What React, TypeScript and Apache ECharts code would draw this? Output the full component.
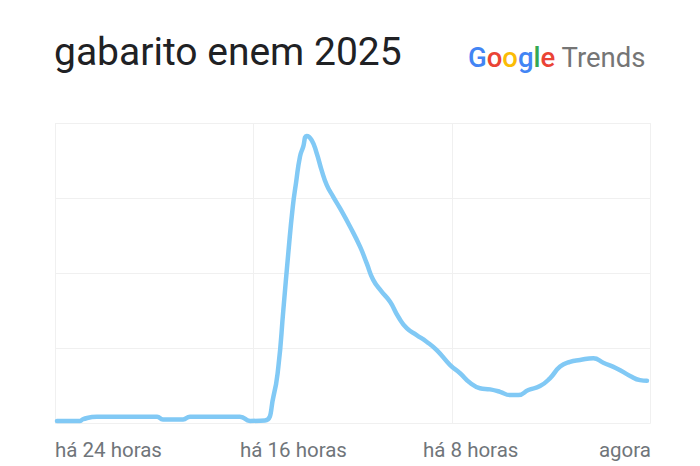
import React, { useEffect, useRef } from "react";
import * as echarts from "echarts";

const titleText = "gabarito enem 2025";
const tickLabels = ["há 24 horas", "há 16 horas", "há 8 horas", "agora"];
const hours = [
  -23.92, -22.99, -22.87, -22.31, -19.89, -19.65, -18.84, -18.56, -16.55, -16.14,
  -15.54, -15.2, -15.0, -14.8, -14.6, -14.42, -14.29, -14.13, -14.0, -13.86,
  -13.66, -13.46, -13.26, -13.05, -12.79, -12.52, -12.11, -11.71, -11.44, -11.18,
  -10.84, -10.5, -10.17, -9.83, -9.43, -9.03, -8.62, -8.09, -7.68, -7.28,
  -6.88, -6.47, -6.07, -5.67, -5.33, -4.93, -4.46, -4.06, -3.65, -3.25,
  -2.85, -2.31, -1.91, -1.37, -0.83, -0.43, -0.15,
];
const values = [
  0.8, 0.8, 1.4, 2.2, 2.2, 1.3, 1.3, 2.2, 2.2, 0.8,
  0.9, 8.9, 18.9, 37.8, 56.8, 72.2, 80.1, 88.9, 92.2, 95.8,
  94.4, 90.1, 84.4, 79.4, 75.5, 71.7, 65.5, 58.9, 53.3, 47.8,
  43.9, 40.5, 35.5, 31.7, 29.4, 27.2, 24.4, 19.5, 16.7, 13.5,
  11.7, 11.3, 10.5, 9.4, 9.4, 11.1, 12.4, 15, 18.9, 20.5,
  21.1, 21.7, 20.2, 18.3, 15.8, 14.4, 14.2,
];

const FONT = "Roboto, 'Noto Sans', sans-serif";

export default function App() {
  const ref = useRef<HTMLDivElement>(null);
  useEffect(() => {
    if (!ref.current) return;
    const chart = echarts.init(ref.current, undefined, { renderer: "svg" });
    const labelColor = "#70757a";
    const labelFont = 20.5;
    const labelY = 450;
    const logoFont = 27.5;
    chart.setOption({
      animation: false,
      backgroundColor: "#ffffff",
      grid: { left: 55, right: 49.3, top: 123.3, bottom: 42.7, containLabel: false },
      xAxis: {
        type: "value",
        min: -24,
        max: 0,
        interval: 8,
        axisLine: { show: false },
        axisTick: { show: false },
        axisLabel: { show: false },
        splitLine: { show: true, lineStyle: { color: "#f0f0f0", width: 1 } },
      },
      yAxis: {
        type: "value",
        min: 0,
        max: 100,
        interval: 25,
        axisLine: { show: false },
        axisTick: { show: false },
        axisLabel: { show: false },
        splitLine: { show: true, lineStyle: { color: "#f0f0f0", width: 1 } },
      },
      series: [
        {
          type: "line",
          data: hours.map((h, i) => [h, values[i]]),
          smooth: 0.5,
          showSymbol: false,
          lineStyle: { color: "#81c9f5", width: 4.5, cap: "round", join: "round" },
        },
      ],
      graphic: [
        {
          type: "text",
          left: 54,
          top: 32,
          style: {
            text: titleText,
            fontFamily: FONT,
            fontSize: 39,
            fill: "#202124",
          },
        },
        {
          type: "text",
          left: 468,
          top: 43,
          style: {
            text: "{b|G}{r|o}{y|o}{b|g}{g|l}{r|e}{t| Trends}",
            fontFamily: FONT,
            fontSize: logoFont,
            rich: {
              b: { fill: "#4285F4", fontSize: logoFont, fontFamily: FONT, fontWeight: 500 },
              r: { fill: "#EA4335", fontSize: logoFont, fontFamily: FONT, fontWeight: 500 },
              y: { fill: "#FBBC05", fontSize: logoFont, fontFamily: FONT, fontWeight: 500 },
              g: { fill: "#34A853", fontSize: logoFont, fontFamily: FONT, fontWeight: 500 },
              t: { fill: "#757575", fontSize: logoFont, fontFamily: FONT, fontWeight: 400 },
            },
          },
        },
        {
          type: "text",
          x: 55,
          y: labelY,
          style: { text: tickLabels[0], fontFamily: FONT, fontSize: labelFont, fill: labelColor, align: "left", verticalAlign: "middle" },
        },
        {
          type: "text",
          x: 240,
          y: labelY,
          style: { text: tickLabels[1], fontFamily: FONT, fontSize: labelFont, fill: labelColor, align: "left", verticalAlign: "middle" },
        },
        {
          type: "text",
          x: 423,
          y: labelY,
          style: { text: tickLabels[2], fontFamily: FONT, fontSize: labelFont, fill: labelColor, align: "left", verticalAlign: "middle" },
        },
        {
          type: "text",
          x: 651,
          y: labelY,
          style: { text: tickLabels[3], fontFamily: FONT, fontSize: labelFont, fill: labelColor, align: "right", verticalAlign: "middle" },
        },
      ],
    });
    return () => chart.dispose();
  }, []);
  return (
    <div
      ref={ref}
      style={{ position: "fixed", left: 0, top: 0, width: 700, height: 466, background: "#fff" }}
    />
  );
}
